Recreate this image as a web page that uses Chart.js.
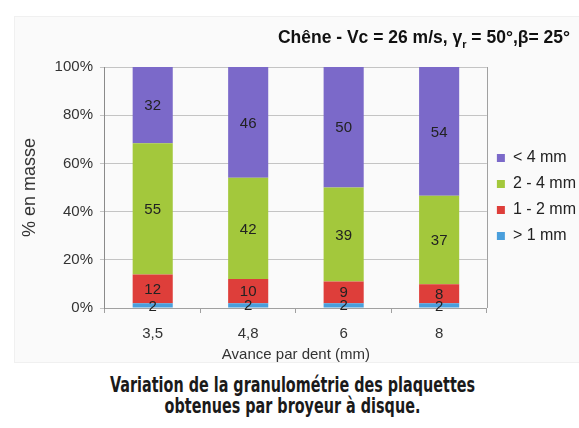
<!DOCTYPE html>
<html>
<head>
<meta charset="utf-8">
<script src="https://cdn.jsdelivr.net/npm/chart.js@4.4.1/dist/chart.umd.min.js"></script>
<style>
    html, body { margin: 0; padding: 0; background: #fff; width: 579px; height: 428px; overflow: hidden; position: relative; font-family: "Liberation Sans", Arial, sans-serif; }
    #panel { position: absolute; left: 14px; top: 16px; width: 580px; height: 347px; background: #fafafa; border: 1px solid #f0f0f0; box-sizing: border-box; }
    #wrap { position: absolute; left: 14px; top: 16px; width: 572px; height: 347px; }
    #title { position: absolute; right: 9px; top: 27px; font-weight: bold; font-size: 17.5px; color: #111; white-space: nowrap; }
    #title sub { font-size: 11px; }
    #caption { position: absolute; left: 0; width: 585px; top: 375px; text-align: center; font-family: "DejaVu Sans", sans-serif; font-weight: bold; font-size: 21px; line-height: 21px; color: #1a1a1a; transform: scaleX(0.685); transform-origin: 292.5px 0; }
</style>
</head>
<body>
<div id="panel"></div>
<div id="wrap"><canvas id="granuloChart"></canvas></div>
<div id="title">Chêne - Vc = 26 m/s, γ<sub>r</sub> = 50°,β= 25°</div>
<div id="caption">Variation de la granulométrie des plaquettes<br>obtenues par broyeur à disque.</div>
<script>
const categories = ['3,5', '4,8', '6', '8'];
const seriesNames = ['> 1 mm', '1 - 2 mm', '2 - 4 mm', '< 4 mm'];
const below1 = [2, 2, 2, 2];
const from1to2 = [12, 10, 9, 8];
const from2to4 = [55, 42, 39, 37];
const above4 = [32, 46, 50, 54];
const yTicks = [0, 20, 40, 60, 80, 100];
const colors = ['#4a9fdc', '#de3e3a', '#a3c83c', '#7b69c9'];

document.addEventListener('DOMContentLoaded', function() {
    const ctx = document.getElementById('granuloChart').getContext('2d');
    const raw = [below1, from1to2, from2to4, above4];

    // 100% stacked, like the original spreadsheet chart
    const totals = categories.map((c, j) => raw.reduce((s, arr) => s + arr[j], 0));

    const segmentLabels = {
        id: 'segmentLabels',
        afterDatasetsDraw(chart) {
            const c = chart.ctx;
            c.save();
            c.font = '15px "Liberation Sans", Arial, sans-serif';
            c.fillStyle = '#222';
            c.textAlign = 'center';
            c.textBaseline = 'middle';
            chart.data.datasets.forEach((ds, i) => {
                chart.getDatasetMeta(i).data.forEach((bar, j) => {
                    c.fillText(String(ds.raw[j]), bar.x, (bar.y + bar.base) / 2 + 1);
                });
            });
            c.restore();
        }
    };

    const plotFrame = {
        id: 'plotFrame',
        beforeDatasetsDraw(chart) {
            const a = chart.chartArea;
            const c = chart.ctx;
            c.save();
            c.strokeStyle = '#a0a0a0';
            c.lineWidth = 1;
            c.beginPath();
            c.moveTo(Math.round(a.right) + 0.5, a.top);
            c.lineTo(Math.round(a.right) + 0.5, a.bottom);
            c.stroke();
            c.restore();
        }
    };

    new Chart(ctx, {
        type: 'bar',
        data: {
            labels: categories,
            datasets: raw.map((arr, i) => ({
                label: seriesNames[i],
                data: arr.map((v, j) => v / totals[j] * 100),
                raw: arr,
                backgroundColor: colors[i],
                borderWidth: 0,
                categoryPercentage: 1,
                barPercentage: 0.42
            }))
        },
        options: {
            responsive: true,
            maintainAspectRatio: false,
            animation: false,
            layout: { padding: { top: 51, left: 2, bottom: 0, right: 0 } },
            plugins: {
                legend: {
                    position: 'right',
                    align: 'start',
                    reverse: true,
                    padding: 11,
                    title: {
                        display: true,
                        text: ' ',
                        padding: { top: 61, bottom: 0 },
                        font: { size: 10 }
                    },
                    labels: {
                        boxWidth: 8,
                        boxHeight: 8,
                        padding: 10,
                        color: '#222',
                        font: { family: '"Liberation Sans", Arial, sans-serif', size: 16 }
                    }
                },
                tooltip: { enabled: false }
            },
            scales: {
                x: {
                    stacked: true,
                    afterFit: function(scale) {
                        scale.height = 55;
                    },
                    grid: { offset: true, drawOnChartArea: false, tickLength: 5, color: '#a0a0a0' },
                    border: { color: '#a0a0a0' },
                    ticks: { padding: 12, color: '#333', font: { family: '"Liberation Sans", Arial, sans-serif', size: 15 } },
                    title: {
                        display: true,
                        text: 'Avance par dent (mm)',
                        color: '#333',
                        padding: { top: 3, bottom: 0 },
                        font: { family: '"Liberation Sans", Arial, sans-serif', size: 15, lineHeight: 1.1 }
                    }
                },
                y: {
                    stacked: true,
                    min: 0,
                    max: 100,
                    afterBuildTicks: function(scale) {
                        scale.ticks = yTicks.map(v => ({ value: v }));
                    },
                    grid: { color: '#c4c4c4', tickLength: 5 },
                    border: { color: '#8a8a8a' },
                    ticks: {
                        padding: 7,
                        color: '#333',
                        font: { family: '"Liberation Sans", Arial, sans-serif', size: 15 },
                        callback: function(value) {
                            return value + '%';
                        }
                    },
                    title: {
                        display: true,
                        text: '% en masse',
                        color: '#333',
                        padding: { top: 3, bottom: 7 },
                        font: { family: '"Liberation Sans", Arial, sans-serif', size: 18 }
                    }
                }
            }
        },
        plugins: [plotFrame, segmentLabels]
    });
});
</script>
</body>
</html>
